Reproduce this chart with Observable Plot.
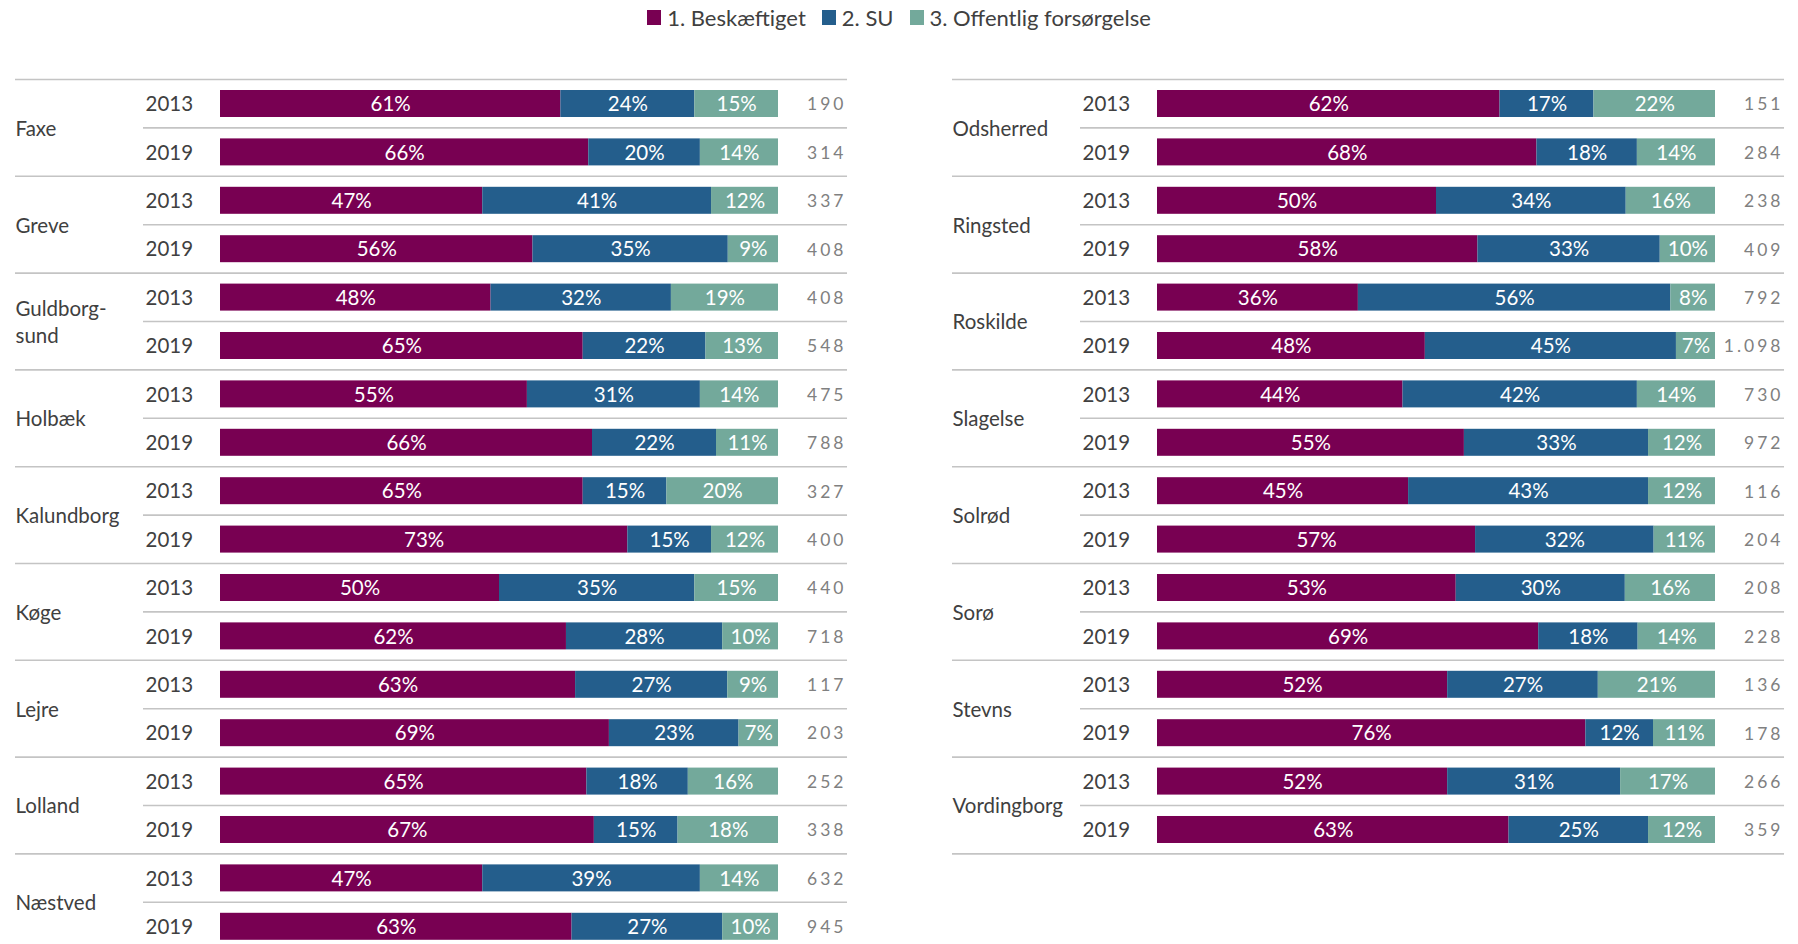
<!DOCTYPE html>
<html>
<head>
<meta charset="utf-8">
<script src="https://cdn.jsdelivr.net/npm/d3@7"></script>
<script src="https://cdn.jsdelivr.net/npm/@observablehq/plot@0.6"></script>
<style>
  html, body { margin: 0; padding: 0; background: #fff; overflow: hidden; }
  body { width: 1798px; height: 944px; position: relative; font-family: Lato, "Open Sans", sans-serif; }
  #legend { position: absolute; top: 2px; left: 0; width: 1798px; height: 30px; display: flex; justify-content: center; align-items: center; font-size: 22px; color: #404040; font-weight: 400; white-space: nowrap; }
  #legend .item { display: flex; align-items: center; margin: 0 8px; }
  #legend .sw { width: 14px; height: 15px; margin-right: 6px; display: inline-block; }
  #left { position: absolute; top: 40px; left: 0; }
  #right { position: absolute; top: 40px; left: 937px; }
  svg text { font-family: Lato, "Open Sans", sans-serif; }
</style>
</head>
<body>
<div id="legend"></div>
<div id="left"></div>
<div id="right"></div>
<script>
// ---- Data ----
const categories = ["1. Beskæftiget", "2. SU", "3. Offentlig forsørgelse"];
const colors = ["#780052", "#245e8c", "#73a99b"];
const years = ["2013", "2019"];

const leftMunicipalities = ["Faxe", "Greve", "Guldborgsund", "Holbæk", "Kalundborg", "Køge", "Lejre", "Lolland", "Næstved"];
const leftLabels = ["Faxe", "Greve", "Guldborg-\nsund", "Holbæk", "Kalundborg", "Køge", "Lejre", "Lolland", "Næstved"];
// per municipality: [2013, 2019]
const leftBeskaeftiget = [[61, 66], [47, 56], [48, 65], [55, 66], [65, 73], [50, 62], [63, 69], [65, 67], [47, 63]];
const leftSU           = [[24, 20], [41, 35], [32, 22], [31, 22], [15, 15], [35, 28], [27, 23], [18, 15], [39, 27]];
const leftOffentlig    = [[15, 14], [12, 9],  [19, 13], [14, 11], [20, 12], [15, 10], [9, 7],   [16, 18], [14, 10]];
const leftCounts       = [[190, 314], [337, 408], [408, 548], [475, 788], [327, 400], [440, 718], [117, 203], [252, 338], [632, 945]];

const rightMunicipalities = ["Odsherred", "Ringsted", "Roskilde", "Slagelse", "Solrød", "Sorø", "Stevns", "Vordingborg"];
const rightLabels = rightMunicipalities;
const rightBeskaeftiget = [[62, 68], [50, 58], [36, 48], [44, 55], [45, 57], [53, 69], [52, 76], [52, 63]];
const rightSU           = [[17, 18], [34, 33], [56, 45], [42, 33], [43, 32], [30, 18], [27, 12], [31, 25]];
const rightOffentlig    = [[22, 14], [16, 10], [8, 7],   [14, 12], [12, 11], [16, 14], [21, 11], [17, 12]];
const rightCounts       = [[151, 284], [238, 409], [792, 1098], [730, 972], [116, 204], [208, 228], [136, 178], [266, 359]];

// ---- Helpers ----
const da = d3.formatLocale({decimal: ",", thousands: ".", grouping: [3], currency: ["", " kr."]});
const fmtCount = da.format(",");

const legend = document.getElementById("legend");
categories.forEach((c, i) => {
  const it = document.createElement("div");
  it.className = "item";
  it.innerHTML = `<span class="sw" style="background:${colors[i]}"></span><span>${c}</span>`;
  legend.appendChild(it);
});

const PITCH = 48.4;
const MT = 39;
const COUNT_FILL = "#808080";

function buildPanel(munis, labels, besk, su, off, counts, width, marginRight, bottomPad) {
  const segs = [];
  const rows = [];
  munis.forEach((m, gi) => {
    years.forEach((y, yi) => {
      const key = m + " " + y;
      rows.push({key, muni: m, label: labels[gi], year: y, count: counts[gi][yi], first: yi === 0, last: gi === munis.length - 1 && yi === 1});
      [besk[gi][yi], su[gi][yi], off[gi][yi]].forEach((v, ci) => {
        segs.push({key, cat: categories[ci], value: v});
      });
    });
  });
  const keys = rows.map(r => r.key);
  const height = MT + keys.length * PITCH + bottomPad;
  const firstRows = rows.filter(r => r.first);
  const secondRows = rows.filter(r => !r.first);
  const lastRows = rows.filter(r => r.last);

  const ink = "#404040";
  const svg = Plot.plot({
    width, height,
    marginLeft: 220, marginRight, marginTop: MT, marginBottom: bottomPad,
    x: {domain: [0, 1], axis: null},
    y: {domain: keys, range: [MT, MT + keys.length * PITCH], padding: 0, round: false, axis: null},
    color: {domain: categories, range: colors},
    style: {fontFamily: "Lato, 'Open Sans', sans-serif", overflow: "visible"},
    marks: [
      // group separators
      Plot.ruleY(firstRows, {y: "key", x1: -0.3674, x2: 1.1237, dy: -PITCH / 2, stroke: "#c4c4c4", strokeWidth: 1.6}),
      Plot.ruleY(lastRows, {y: "key", x1: -0.3674, x2: 1.1237, dy: PITCH / 2, stroke: "#c4c4c4", strokeWidth: 1.6}),
      // year separators
      Plot.ruleY(secondRows, {y: "key", x1: -0.138, x2: 1.1237, dy: -PITCH / 2, stroke: "#c4c4c4", strokeWidth: 1.6}),
      // bars
      Plot.barX(segs, Plot.stackX({offset: "normalize", order: categories, x: "value", y: "key", fill: "cat", insetTop: 11, insetBottom: 10.4})),
      Plot.text(segs, Plot.stackX({offset: "normalize", order: categories, x: "value", y: "key", z: "cat", text: d => d.value + "%", fill: "white", fontSize: 20.5, dy: 1})),
      // year labels
      Plot.text(rows, {x: 0, y: "key", text: "year", dx: -75, textAnchor: "start", fill: ink, fontSize: 20.5, dy: 1}),
      // municipality labels
      Plot.text(secondRows, {x: 0, y: "key", text: "label", dx: -205, dy: -PITCH / 2 - 1, textAnchor: "start", fill: ink, fontSize: 20.5, lineHeight: 1.35}),
      // counts
      Plot.text(rows, {x: 1, y: "key", text: d => fmtCount(d.count), dx: 68, textAnchor: "end", fill: COUNT_FILL, fontSize: 17.5, dy: 1})
    ]
  });
  d3.select(svg).selectAll(`g[fill="${COUNT_FILL}"] text`).style("letter-spacing", "3px");
  return svg;
}

document.getElementById("left").appendChild(
  buildPanel(leftMunicipalities, leftLabels, leftBeskaeftiget, leftSU, leftOffentlig, leftCounts, 937, 159, 2)
);
document.getElementById("right").appendChild(
  buildPanel(rightMunicipalities, rightLabels, rightBeskaeftiget, rightSU, rightOffentlig, rightCounts, 861, 83, 2)
);
</script>
</body>
</html>
